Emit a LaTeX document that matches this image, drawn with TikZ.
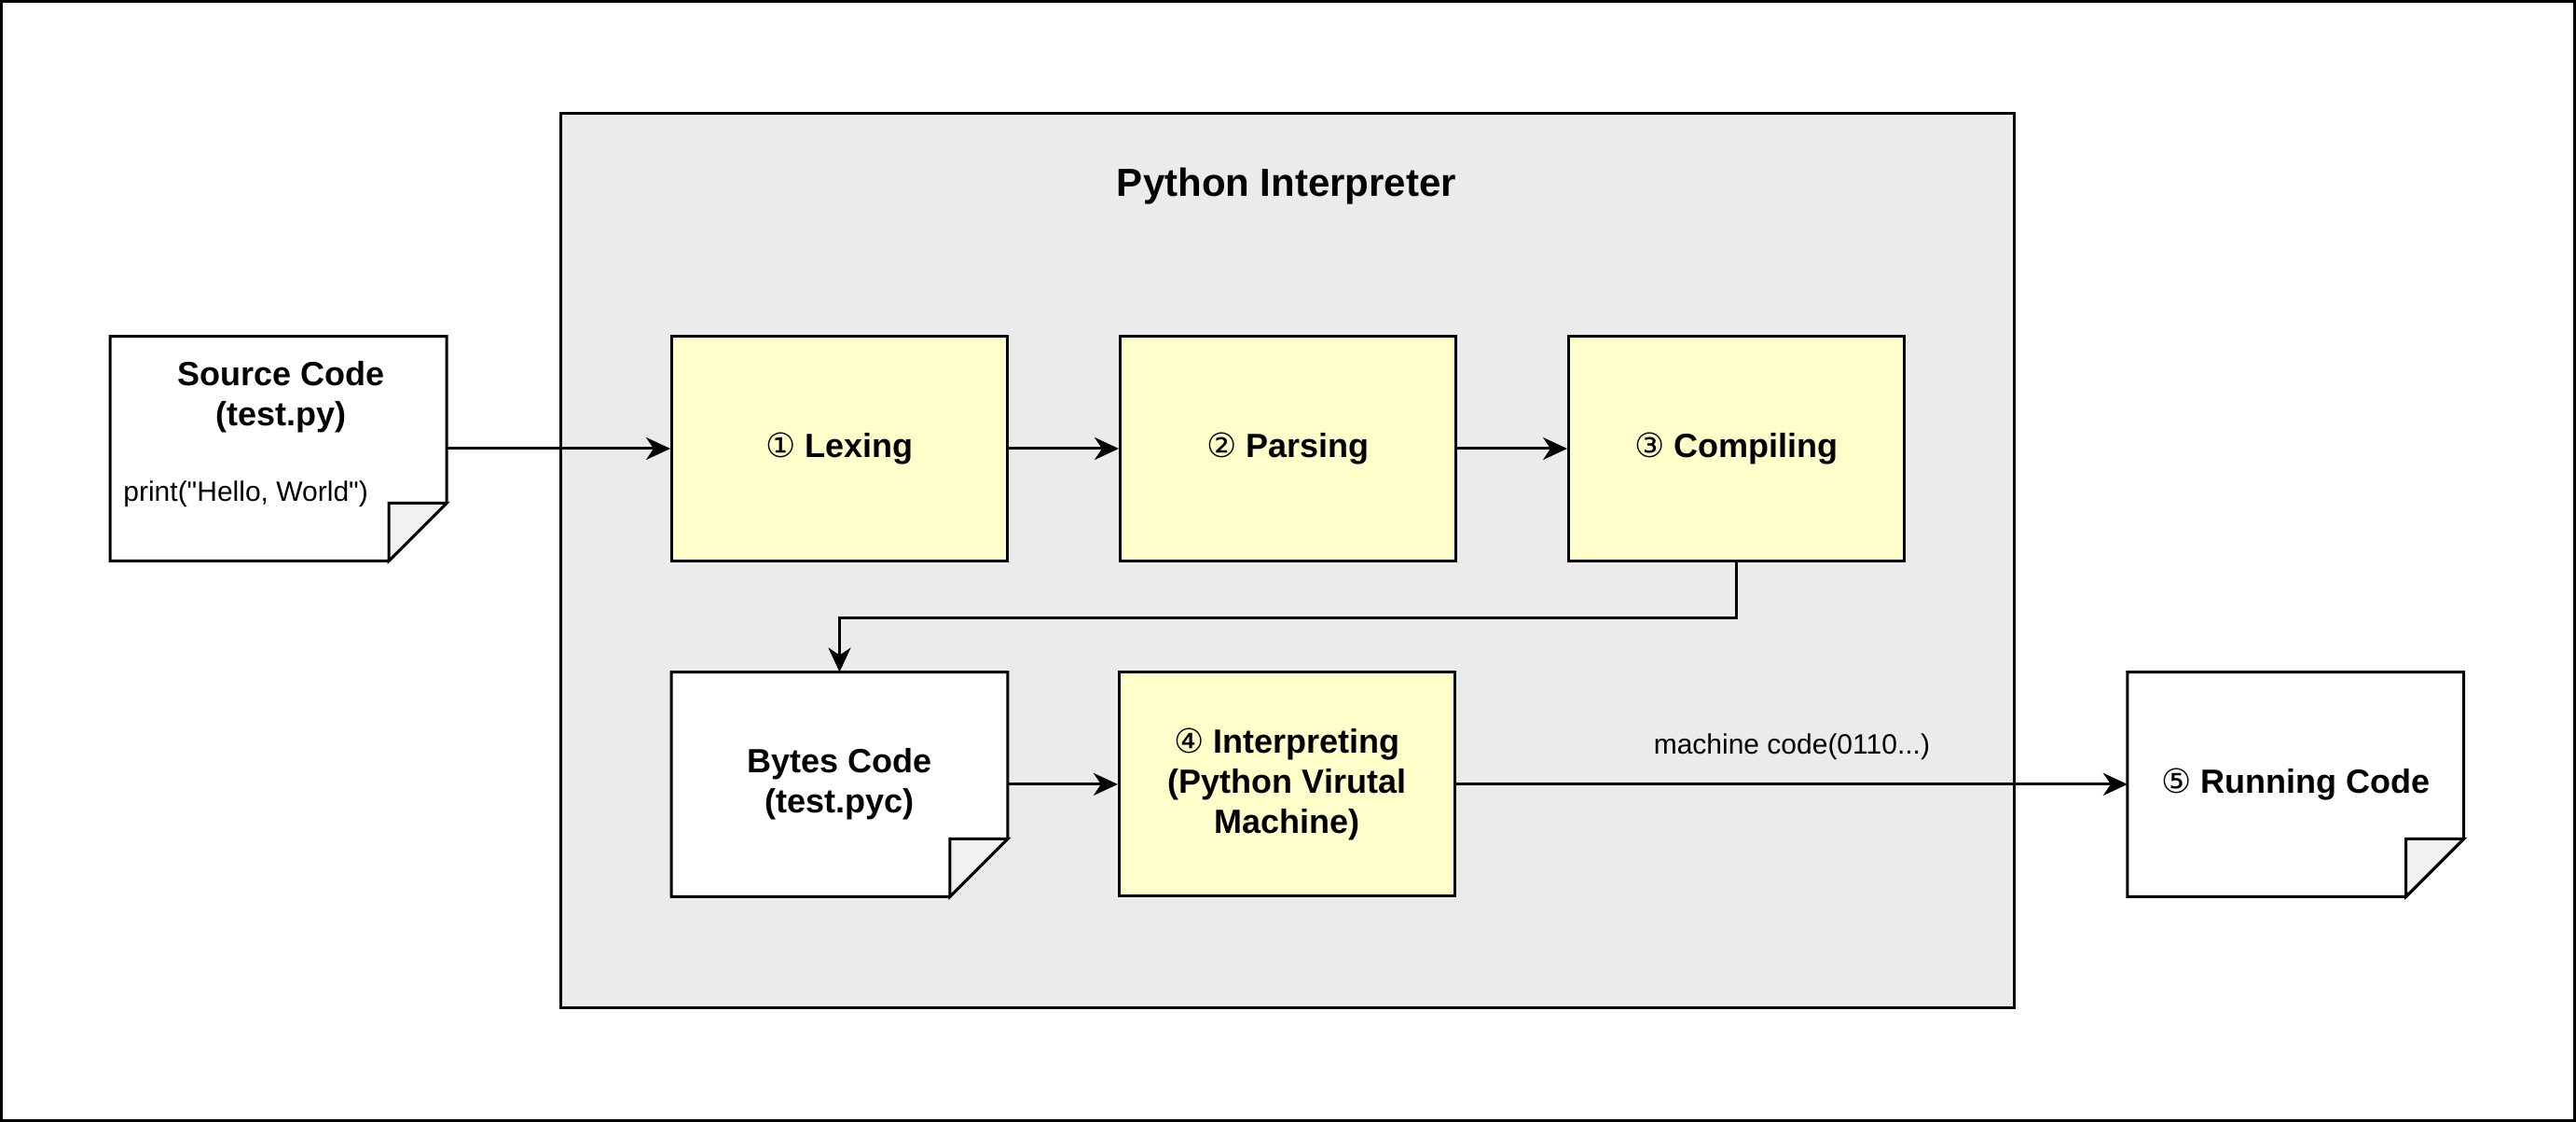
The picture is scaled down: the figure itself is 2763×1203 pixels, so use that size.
\documentclass[tikz,border=0pt]{standalone}
\usepackage{fontspec}
\setmainfont{Liberation Sans}
\newfontfamily\circfont{DejaVu Sans}
\usetikzlibrary{positioning,arrows.meta}
\definecolor{panelgray}{HTML}{EBEBEB}
\definecolor{stageyellow}{HTML}{FFFFCC}
\definecolor{foldgray}{HTML}{F1F1F1}
\newcommand{\cnum}[1]{{\circfont\mdseries #1}}
\newcommand{\sheetfold}[1]{%
	\filldraw[fill=white,line width=1.5pt] (#1.north west) -- (#1.north east) -- ([yshift=31pt]#1.south east) -- ([xshift=-31pt]#1.south east) -- (#1.south west) -- cycle;
	\filldraw[fill=foldgray,line width=1.5pt] ([xshift=-31pt]#1.south east) -- ([xshift=-31pt,yshift=31pt]#1.south east) -- ([yshift=31pt]#1.south east) -- cycle;}

\begin{document}
\begin{tikzpicture}[x=0.5pt,y=-0.5pt,node distance=59pt]
				\tikzstyle{panel}=[draw,line width=1.5pt,fill=panelgray,minimum width=779.5pt,minimum height=479pt]
				\tikzstyle{stage}=[draw,line width=1.5pt,fill=stageyellow,minimum width=180pt,minimum height=120pt,
				align=center,font=\fontsize{18}{21.6}\selectfont\bfseries]
				\tikzstyle{sheet}=[minimum width=180pt,minimum height=120pt,inner sep=0pt]
				\tikzstyle{sheettext}=[align=center,font=\fontsize{18}{21.6}\selectfont\bfseries]
				\tikzstyle{arr}=[line width=1.5pt,-{Stealth[length=13pt,width=12pt,inset=4pt]}]
				\useasboundingbox (0,0) rectangle (2763,1203);
				\draw[line width=1.5pt] (1.5,1.5) rectangle (2761.5,1201.5);
				\node[panel] (interpreter) at (1380.5,601) {};
				\node[font=\fontsize{21}{25}\selectfont\bfseries] (title) at (1380,200) {Python Interpreter};
				\node[stage] (lex) at (900.5,481) {\cnum{①} Lexing};
				\node[stage,right=of lex] (parse) {\cnum{②} Parsing};
				\node[stage,right=of parse] (comp) {\cnum{③} Compiling};
				\node[sheet,left=120pt of lex] (src) {};
				\node[sheet,below=of lex] (bytes) {};
				\node[stage,right=of bytes] (interp) {\cnum{④} Interpreting\\(Python Virutal\\Machine)};
				\node[sheet,right=360pt of interp] (run) {};
				\sheetfold{src}
				\sheetfold{bytes}
				\sheetfold{run}
				\node[sheettext] (srctxt) at (301.5,426) {Source Code\\(test.py)};
				\node[anchor=west,inner sep=0pt,font=\fontsize{15}{18}\selectfont] (srccode) at (132,530) {print(\textquotedbl Hello, World\textquotedbl)};
				\node[sheettext] (bytestxt) at (bytes) {Bytes Code\\(test.pyc)};
				\node[sheettext] (runtxt) at (run) {\cnum{⑤} Running Code};
				\draw[arr] (src.east) -- (lex.west);
				\draw[arr] (lex) -- (parse);
				\draw[arr] (parse) -- (comp);
				\draw[arr] (comp.south) -- ++(0,60) -| (bytes.north);
				\draw[arr] (bytes) -- (interp);
				\draw[arr] (interp) -- node[midway,yshift=20pt,font=\fontsize{15}{18}\selectfont] (mclabel) {machine code(0110...)} (run);
\end{tikzpicture}
\end{document}
